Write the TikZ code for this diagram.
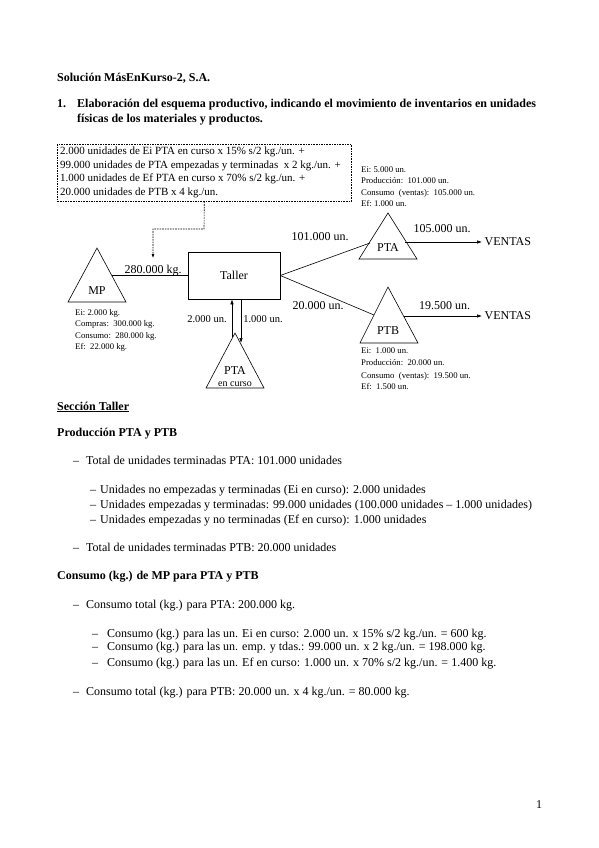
\documentclass[tikz,border=0pt]{standalone}
\usepackage{fontspec}
\setmainfont{Liberation Serif}
\usetikzlibrary{arrows.meta}
\begin{document}
\begin{tikzpicture}[x=1pt,y=-1pt,
  every node/.style={inner sep=0pt},
  body/.style={anchor=base west, font=\fontsize{12}{14}\selectfont},
  head/.style={anchor=base west, font=\fontsize{12}{14}\selectfont\bfseries},
  lbl/.style={anchor=base, font=\fontsize{12}{14}\selectfont},
  slbl/.style={anchor=base, font=\fontsize{10.5}{12}\selectfont},
  info/.style={anchor=base west, font=\fontsize{8.7}{10}\selectfont},
  note/.style={anchor=base west, font=\fontsize{11}{13}\selectfont},
  flow/.style={line width=0.6pt},
  arr/.style={flow, -{Latex[length=5pt,width=3.5pt]}},
  tri/.style={line width=0.6pt, line join=miter},
  dsh/.style={line width=0.6pt, dash pattern=on 1.6pt off 1pt},
]
\useasboundingbox[fill=white] (0,0) rectangle (599,848);

% ---- headings
\node[head] (t1) at (57,82) {Solución MásEnKurso-2, S.A.};
\node[head] (n1) at (57,108) {1.};
\node[head] (t2) at (77,108) {Elaboración del esquema productivo, indicando el movimiento de inventarios en unidades};
\node[head] (t3) at (77,122.5) {físicas de los materiales y productos.};

% ---- dashed note box
\node[draw, dsh, anchor=north west, minimum width=294pt, minimum height=57pt] (nota) at (57,144) {};
\node[note] (nl1) at (60,154.5) {2.000 unidades de Ei PTA en curso x 15\% s/2 kg./un. +};
\node[note] (nl2) at (60,168) {99.000 unidades de PTA empezadas y terminadas\ \ x 2 kg./un. +};
\node[note] (nl3) at (60,181.5) {1.000 unidades de Ef PTA en curso x 70\% s/2 kg./un. +};
\node[note] (nl4) at (60,195) {20.000 unidades de PTB x 4 kg./un.};
\coordinate (d1) at (204,229);
\coordinate (d2) at (153,229);
\coordinate (d3) at (153,258);
\draw[dsh, -{Latex[length=4pt,width=3pt]}] (nota.south) -- (d1) -- (d2) -- (d3);

% ---- MP triangle
\coordinate (mpA) at (97,248);
\coordinate (mpL) at (68,302);
\coordinate (mpR) at (126,302);
\draw[tri] (mpA) -- (mpL) -- (mpR) -- cycle;
\node[lbl] (mp) at (97,294) {MP};
\coordinate (mpout) at (112,275.5);
\node[info] (mp1) at (75,315) {Ei:\ 2.000 kg.};
\node[info] (mp2) at (75,326.5) {Compras:\ \ 300.000 kg.};
\node[info] (mp3) at (75,338) {Consumo:\ \ 280.000 kg.};
\node[info] (mp4) at (75,349.5) {Ef:\ \ 22.000 kg.};

% ---- Taller
\node[draw, line width=0.6pt, minimum width=92pt, minimum height=47pt,
      font=\fontsize{12}{14}\selectfont] (taller) at (234,275.5) {Taller};
\draw[flow] (mpout) -- (taller.west);
\node[lbl] (kg) at (153,273) {280.000 kg.};

% ---- PTA en curso
\coordinate (pcA) at (235,333);
\coordinate (pcL) at (206,388);
\coordinate (pcR) at (264,388);
\draw[tri] (pcA) -- (pcL) -- (pcR) -- cycle;
\node[lbl] (pc) at (235,374) {PTA};
\node[anchor=base, font=\fontsize{10}{11}\selectfont] (pc2) at (235,386) {en curso};
\coordinate (upstart) at (232,337);
\coordinate (dnend) at (241,343);
\draw[arr] (upstart) -- (taller.south -| upstart);
\draw[arr] (taller.south -| dnend) -- (dnend);
\node[slbl] (u2) at (207,322.5) {2.000 un.};
\node[slbl] (u1) at (263,322.5) {1.000 un.};

% ---- PTA
\coordinate (ptaA) at (388,213);
\coordinate (ptaL) at (359,259);
\coordinate (ptaR) at (417,259);
\draw[tri] (ptaA) -- (ptaL) -- (ptaR) -- cycle;
\node[lbl] (pta) at (388,251) {PTA};
\coordinate (ptain) at (370,243);
\coordinate (ptaout) at (405,242);

% ---- PTB
\coordinate (ptbA) at (388,287);
\coordinate (ptbL) at (360,343);
\coordinate (ptbR) at (418,343);
\draw[tri] (ptbA) -- (ptbL) -- (ptbR) -- cycle;
\node[lbl] (ptb) at (388,334) {PTB};
\coordinate (ptbin) at (374,315);
\coordinate (ptbout) at (404,316);

\draw[flow] (taller.east) -- (ptain);
\draw[flow] (taller.east) -- (ptbin);
\node[lbl] (l101) at (320,240) {101.000 un.};
\node[lbl] (l20) at (318,309) {20.000 un.};

\node[anchor=west, inner sep=2.5pt, font=\fontsize{12}{14}\selectfont] (ventasA) at (482,242) {VENTAS};
\node[anchor=west, inner sep=2.5pt, font=\fontsize{12}{14}\selectfont] (ventasB) at (482,316) {VENTAS};
\draw[arr] (ptaout) -- (ventasA.west);
\draw[arr] (ptbout) -- (ventasB.west);
\node[lbl] (l105) at (442,232) {105.000 un.};
\node[lbl] (l195) at (444.5,309) {19.500 un.};

% ---- PTA info
\node[info] (pa1) at (361,172) {Ei:\ 5.000 un.};
\node[info] (pa2) at (361,183.7) {Producción:\ \ 101.000 un.};
\node[info] (pa3) at (361,195.3) {Consumo\ \ (ventas):\ \ 105.000 un.};
\node[info] (pa4) at (361,206.5) {Ef:\ 1.000 un.};
% ---- PTB info
\node[info] (pb1) at (361,353.7) {Ei:\ \ 1.000 un.};
\node[info] (pb2) at (361,365.7) {Producción:\ \ 20.000 un.};
\node[info] (pb3) at (361,378) {Consumo\ \ (ventas):\ \ 19.500 un.};
\node[info] (pb4) at (361,389.7) {Ef:\ \ 1.500 un.};

% ---- Sección Taller
\node[head] (s1) at (57,410) {\underline{Sección Taller}};
\node[head] (s2) at (57,436) {Producción PTA y PTB};
\node[body] (a0) at (73,464) {–};
\node[body] (a1) at (86,464) {Total de unidades terminadas PTA: 101.000 unidades};
\node[body] (b0) at (90,493) {–};
\node[body] (b1) at (100,493) {Unidades no empezadas y terminadas (Ei en curso): 2.000 unidades};
\node[body] (c0) at (90,508) {–};
\node[body] (c1) at (100,508) {Unidades empezadas y terminadas: 99.000 unidades (100.000 unidades – 1.000 unidades)};
\node[body] (e0) at (90,523) {–};
\node[body] (e1) at (100,523) {Unidades empezadas y no terminadas (Ef en curso): 1.000 unidades};
\node[body] (f0) at (73,551) {–};
\node[body] (f1) at (86,551) {Total de unidades terminadas PTB: 20.000 unidades};

\node[head] (s3) at (57,579) {Consumo (kg.) de MP para PTA y PTB};
\node[body] (g0) at (73,608) {–};
\node[body] (g1) at (86,608) {Consumo total (kg.) para PTA: 200.000 kg.};
\node[body] (h0) at (92,637) {–};
\node[body] (h1) at (107,637) {Consumo (kg.) para las un. Ei en curso: 2.000 un. x 15\% s/2 kg./un. = 600 kg.};
\node[body] (i0) at (92,650.5) {–};
\node[body] (i1) at (107,650.5) {Consumo (kg.) para las un. emp. y tdas.: 99.000 un. x 2 kg./un. = 198.000 kg.};
\node[body] (j0) at (92,666) {–};
\node[body] (j1) at (107,666) {Consumo (kg.) para las un. Ef en curso: 1.000 un. x 70\% s/2 kg./un. = 1.400 kg.};
\node[body] (k0) at (73,695) {–};
\node[body] (k1) at (86,695) {Consumo total (kg.) para PTB: 20.000 un. x 4 kg./un. = 80.000 kg.};

\node[body] (pg) at (536,808) {1};
\end{tikzpicture}
\end{document}
